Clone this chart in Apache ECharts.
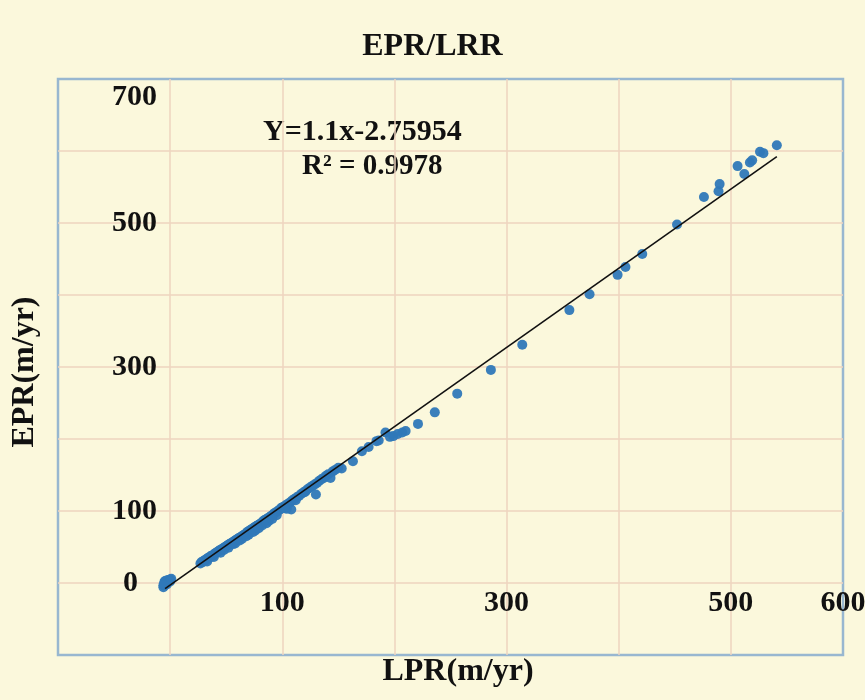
<!DOCTYPE html>
<html>
<head>
<meta charset="utf-8">
<script src="https://cdn.jsdelivr.net/npm/echarts@6/dist/echarts.min.js"></script>
<style>
html,body{margin:0;padding:0;background:#fbf8dc;}
#chart{width:865px;height:700px;}
</style>
</head>
<body>
<div id="chart"></div>
<script>
// LPR (x) / EPR (y) pairs, m/yr
var lprVals = [-6,-5,-4,-5,-3,-2,-1,0,1,-3,-5,-4,-2,0,-6,
	27,28,29,30,31,32,33,34,35,36,37,38,39,40,41,42,43,44,45,46,47,48,49,50,
	51,52,53,54,55,56,57,58,59,60,61,62,63,64,65,66,67,68,69,70,71,72,73,74,75,76,
	77,78,79,80,81,82,83,84,85,86,87,88,89,90,91,92,93,94,96,97,98,99,100,101,
	103,104,105,107,108,109,111,113,115,117,119,121,123,125,127,129,130,131,133,135,
	137,139,141,143,145,147,150,153,
	45,52,58,64,70,76,82,95,
	33,39,48,56,62,68,74,79,86,91,102,112,120,
	163,171,177,184,186,192,196,199,203,207,210,221,236,256,286,314,356,374,399,406,
	421,452,476,489,490,506,512,517,519,526,529,541];
var eprVals = [-6,-3,-1,2,1,4,3,5,6,-2,0,3,1,2,-3,
	27,29,29,31,32,32,34,35,35,37,38,38,40,41,42,43,44,45,46,47,48,49,50,51,
	52,53,54,55,56,57,58,59,60,61,62,63,64,65,66,67,68,69,71,72,73,74,75,76,77,78,
	79,80,81,82,83,84,86,87,88,89,90,86,92,93,94,95,97,98,100,101,102,104,105,106,
	108,103,110,112,102,115,117,119,121,124,126,128,131,133,135,137,123,139,142,144,
	146,149,151,146,155,157,160,159,
	42,49,55,61,67,73,80,94,
	30,36,46,54,59,65,71,76,83,89,104,115,126,
	169,183,189,197,198,209,203,204,207,209,211,221,237,263,296,331,379,401,428,439,
	457,498,536,544,554,579,568,584,587,599,597,608];

// regression line Y=1.1x-2.75954, drawn between these ends
var fitLine = [[-4.5, -7.7], [541, 592.3]];

var xTicks = [100, 300, 500, 600];
var yTicks = [0, 100, 300, 500, 700];

var fontFam = '"Liberation Serif","Times New Roman",serif';

var pts = [];
for (var i = 0; i < lprVals.length; i++) {
	pts.push([lprVals[i], eprVals[i]]);
}

var myChart = echarts.init(document.getElementById('chart'));
var option = {
	backgroundColor: '#fbf8dc',
	animation: false,
	title: {
		text: 'EPR/LRR',
		left: 'center',
		top: 26,
		textStyle: {fontFamily: fontFam, fontWeight: 'bold', fontSize: 32, color: '#111'}
	},
	grid: {
		left: 58, right: 22, top: 79, bottom: 45,
		show: true,
		borderColor: '#98b7d0',
		borderWidth: 2.5,
		backgroundColor: 'transparent',
		containLabel: false,
		outerBoundsMode: 'none'
	},
	xAxis: {
		type: 'value',
		min: -100, max: 600, interval: 100,
		position: 'bottom',
		offset: -73, // labels sit under the y=0 line
		axisLine: {show: false, onZero: false},
		axisTick: {show: false},
		splitLine: {show: true, showMinLine: false, showMaxLine: false, lineStyle: {color: '#eed4bf', width: 1.5}},
		axisLabel: {
			margin: 6,
			fontFamily: fontFam, fontWeight: 'bold', fontSize: 30, color: '#111',
			formatter: function (v) {
				return xTicks.indexOf(v) >= 0 ? String(v) : '';
			}
		}
	},
	yAxis: {
		type: 'value',
		min: -100, max: 700, interval: 100,
		position: 'left',
		offset: -112, // labels sit left of the x=0 line
		axisLine: {show: false, onZero: false},
		axisTick: {show: false},
		splitLine: {show: true, showMinLine: false, showMaxLine: false, lineStyle: {color: '#eed4bf', width: 1.5}},
		axisLabel: {
			margin: 13,
			fontFamily: fontFam, fontWeight: 'bold', fontSize: 30, color: '#111',
			formatter: function (v) {
				if (v === 0) return '{z|0}';
				if (v === 700) return '{t|700}';
				return yTicks.indexOf(v) >= 0 ? String(v) : '';
			},
			rich: {
				z: {padding: [0, 19, 0, 0], fontFamily: fontFam, fontWeight: 'bold', fontSize: 30, color: '#111'},
				t: {padding: [36, 0, 0, 0], fontFamily: fontFam, fontWeight: 'bold', fontSize: 30, color: '#111'}
			}
		}
	},
	graphic: [
		{type: 'text', x: 263, y: 132, style: {text: 'Y=1.1x-2.75954', font: 'bold 30px ' + fontFam, fill: '#111', align: 'left', verticalAlign: 'middle'}},
		{type: 'text', x: 302, y: 167, style: {text: 'R\u00b2 = 0.9978', font: 'bold 29px ' + fontFam, fill: '#111', align: 'left', verticalAlign: 'middle'}},
		{type: 'text', x: 458, y: 672, style: {text: 'LPR(m/yr)', font: 'bold 32px ' + fontFam, fill: '#111', align: 'center', verticalAlign: 'middle'}},
		{type: 'text', x: 25, y: 372, rotation: Math.PI / 2, style: {text: 'EPR(m/yr)', font: 'bold 32px ' + fontFam, fill: '#111', align: 'center', verticalAlign: 'middle'}}
	],
	series: [
		{
			name: 'EPR/LRR',
			type: 'scatter',
			data: pts,
			symbol: 'circle',
			symbolSize: 10,
			itemStyle: {color: '#2f78b8', opacity: 0.95},
			z: 2
		},
		{
			name: 'fit',
			type: 'line',
			data: fitLine,
			symbol: 'none',
			lineStyle: {color: '#111', width: 1.6},
			z: 3
		}
	]
};
myChart.setOption(option);
</script>
</body>
</html>
